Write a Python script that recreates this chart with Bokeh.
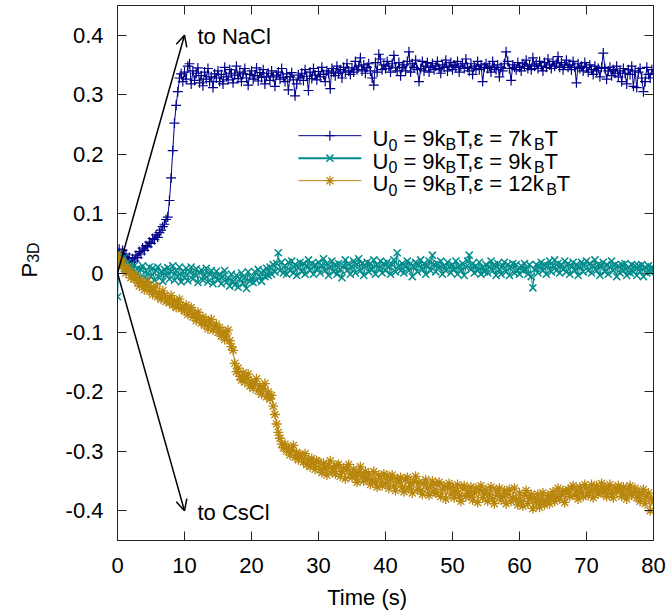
import math
from bokeh.plotting import figure
from bokeh.layouts import row
from bokeh.models import Label, Arrow, OpenHead, LinearAxis, FixedTicker, Range1d, ColumnDataSource
from bokeh.embed import file_html
from bokeh.resources import INLINE

# ---------------- data ----------------
time_step_s = 0.25

blue_u9_e7 = [
    0.035, 0.040, 0.030, 0.038, 0.028, 0.032, 0.022, 0.026, 0.018, 0.024,
    0.020, 0.030, 0.026, 0.036, 0.032, 0.042, 0.038, 0.046, 0.044, 0.052,
    0.050, 0.058, 0.056, 0.064, 0.060, 0.068, 0.072, 0.078, 0.082, 0.090,
    0.094, 0.122, 0.160, 0.206, 0.252, 0.282, 0.305, 0.328, 0.335, 0.322,
    0.338, 0.326, 0.348, 0.352, 0.318, 0.340, 0.324, 0.336, 0.345, 0.320,
    0.332, 0.315, 0.338, 0.326, 0.344, 0.322, 0.330, 0.312, 0.335, 0.328,
    0.340, 0.322, 0.334, 0.318, 0.346, 0.330, 0.325, 0.342, 0.336, 0.320,
    0.333, 0.348, 0.327, 0.338, 0.322, 0.335, 0.344, 0.328, 0.316, 0.334,
    0.340, 0.326, 0.332, 0.345, 0.323, 0.337, 0.329, 0.342, 0.318, 0.331,
    0.336, 0.324, 0.340, 0.330, 0.314, 0.333, 0.338, 0.326, 0.344, 0.329,
    0.322, 0.335, 0.308, 0.330, 0.337, 0.325, 0.298, 0.318, 0.333, 0.328,
    0.336, 0.324, 0.342, 0.331, 0.307, 0.338, 0.327, 0.344, 0.333, 0.325,
    0.339, 0.330, 0.346, 0.334, 0.322, 0.340, 0.336, 0.310, 0.344, 0.338,
    0.332, 0.348, 0.336, 0.342, 0.328, 0.346, 0.338, 0.352, 0.340, 0.334,
    0.345, 0.338, 0.356, 0.342, 0.348, 0.362, 0.340, 0.350, 0.336, 0.346,
    0.352, 0.340, 0.328, 0.316, 0.354, 0.338, 0.368, 0.360, 0.342, 0.350,
    0.344, 0.356, 0.348, 0.338, 0.352, 0.366, 0.345, 0.340, 0.354, 0.332,
    0.346, 0.350, 0.340, 0.356, 0.372, 0.338, 0.352, 0.346, 0.358, 0.342,
    0.322, 0.344, 0.356, 0.340, 0.348, 0.354, 0.338, 0.346, 0.352, 0.342,
    0.348, 0.356, 0.344, 0.336, 0.350, 0.346, 0.358, 0.340, 0.348, 0.354,
    0.342, 0.350, 0.346, 0.356, 0.338, 0.348, 0.352, 0.344, 0.360, 0.346,
    0.340, 0.352, 0.334, 0.348, 0.344, 0.356, 0.342, 0.350, 0.322, 0.346,
    0.352, 0.344, 0.348, 0.338, 0.356, 0.346, 0.342, 0.350, 0.330, 0.346,
    0.340, 0.352, 0.372, 0.356, 0.344, 0.324, 0.350, 0.346, 0.342, 0.354,
    0.346, 0.340, 0.352, 0.348, 0.358, 0.344, 0.350, 0.342, 0.362, 0.348,
    0.352, 0.344, 0.356, 0.348, 0.340, 0.354, 0.346, 0.360, 0.350, 0.344,
    0.356, 0.348, 0.352, 0.364, 0.346, 0.354, 0.342, 0.350, 0.358, 0.346,
    0.350, 0.342, 0.356, 0.346, 0.320, 0.352, 0.344, 0.348, 0.340, 0.354,
    0.346, 0.338, 0.350, 0.342, 0.334, 0.348, 0.340, 0.344, 0.330, 0.346,
    0.370, 0.344, 0.326, 0.340, 0.346, 0.332, 0.342, 0.336, 0.348, 0.330,
    0.340, 0.322, 0.344, 0.336, 0.318, 0.342, 0.334, 0.348, 0.314, 0.340,
    0.312, 0.338, 0.344, 0.328, 0.305, 0.322, 0.346, 0.334, 0.328, 0.342,
    0.336,
]

teal_u9_e9 = [
    -0.040, 0.032, 0.024, 0.014, 0.026, 0.008, 0.018, 0.002, 0.014, -0.004,
    0.012, -0.006, 0.008, -0.010, 0.006, 0.012, -0.008, 0.004, -0.012, 0.010,
    -0.006, 0.008, -0.012, 0.004, 0.010, -0.008, 0.002, -0.014, 0.006, -0.004,
    0.009, -0.010, 0.002, 0.012, -0.012, 0.004, -0.006, 0.010, -0.015, 0.003,
    -0.008, 0.008, -0.013, 0.002, 0.010, -0.010, -0.002, 0.007, -0.016, 0.001,
    0.005, -0.012, -0.004, 0.008, -0.015, -0.002, 0.004, -0.018, -0.006, 0.003,
    -0.012, -0.002, -0.018, -0.006, 0.004, -0.016, -0.008, -0.022, -0.002, -0.014,
    -0.020, -0.004, -0.024, -0.010, 0.000, -0.018, -0.008, -0.026, 0.002, -0.014,
    -0.008, -0.016, 0.002, -0.012, 0.006, -0.006, -0.014, 0.004, -0.006, 0.008,
    -0.004, 0.010, -0.002, 0.014, 0.002, 0.016, 0.034, 0.004, 0.018, 0.000,
    0.012, -0.002, 0.018, 0.004, 0.020, 0.000, 0.014, -0.004, 0.010, 0.018,
    0.002, 0.016, -0.002, 0.012, 0.022, 0.004, 0.016, -0.002, 0.014, 0.006,
    0.018, 0.000, 0.012, 0.024, 0.004, 0.016, -0.004, 0.010, 0.020, 0.002,
    0.014, -0.002, 0.016, 0.006, -0.008, 0.012, 0.022, 0.004, 0.016, -0.002,
    0.010, 0.020, 0.000, 0.014, 0.024, 0.004, 0.016, -0.004, 0.012, 0.018,
    0.002, 0.016, 0.006, 0.022, -0.002, 0.014, 0.008, 0.020, 0.000, 0.016,
    0.004, 0.018, 0.010, -0.002, 0.014, 0.022, 0.002, 0.034, 0.012, 0.004,
    0.016, 0.000, 0.012, 0.020, 0.004, 0.016, -0.006, 0.010, 0.018, 0.002,
    0.014, 0.022, 0.006, 0.016, -0.002, 0.012, 0.020, 0.004, 0.030, 0.014,
    0.002, 0.016, 0.008, 0.020, -0.002, 0.012, 0.004, 0.018, 0.010, 0.000,
    0.014, 0.006, 0.020, -0.002, 0.012, 0.004, 0.016, -0.004, 0.010, 0.020,
    0.030, 0.006, 0.016, 0.000, 0.012, 0.004, 0.018, -0.002, 0.010, 0.002,
    0.014, 0.000, 0.010, 0.020, 0.004, 0.014, -0.004, 0.016, 0.006, -0.002,
    0.012, 0.018, 0.002, 0.014, -0.004, 0.010, 0.016, 0.000, 0.014, 0.004,
    -0.002, 0.012, 0.004, 0.016, 0.006, -0.002, 0.014, -0.006, -0.025, 0.006,
    0.014, 0.000, 0.010, 0.018, 0.004, 0.014, -0.002, 0.012, 0.020, 0.002,
    0.012, 0.022, 0.004, 0.016, 0.000, 0.014, 0.006, 0.020, 0.002, 0.016,
    -0.002, 0.012, 0.018, 0.004, 0.014, -0.004, 0.010, 0.018, 0.002, 0.014,
    0.020, 0.004, 0.016, 0.000, 0.012, 0.022, 0.004, 0.014, -0.004, 0.012,
    0.018, 0.002, 0.014, -0.002, 0.010, 0.020, 0.004, 0.014, -0.006, 0.012,
    0.000, 0.014, 0.004, 0.016, -0.004, 0.010, 0.000, 0.014, 0.002, 0.012,
    -0.004, 0.012, 0.002, 0.014, -0.006, 0.010, 0.000, 0.012, 0.002, 0.010,
    0.004,
]

gold_u9_e12 = [
    0.032, 0.024, 0.014, 0.020, 0.008, 0.000, 0.010, 0.002, -0.008, -0.002,
    -0.010, -0.004, -0.016, -0.022, -0.012, -0.018, -0.028, -0.020, -0.014, -0.030,
    -0.024, -0.036, -0.030, -0.022, -0.040, -0.034, -0.044, -0.030, -0.038, -0.048,
    -0.042, -0.050, -0.038, -0.054, -0.046, -0.058, -0.050, -0.044, -0.060, -0.056,
    -0.064, -0.054, -0.070, -0.062, -0.058, -0.074, -0.068, -0.080, -0.066, -0.076,
    -0.084, -0.074, -0.088, -0.080, -0.094, -0.084, -0.078, -0.096, -0.090, -0.086,
    -0.100, -0.092, -0.106, -0.098, -0.112, -0.104, -0.096, -0.114, -0.124, -0.130,
    -0.152, -0.166, -0.160, -0.174, -0.180, -0.168, -0.184, -0.176, -0.170, -0.190,
    -0.182, -0.194, -0.186, -0.178, -0.198, -0.190, -0.204, -0.194, -0.186, -0.208,
    -0.200, -0.212, -0.206, -0.224, -0.238, -0.254, -0.268, -0.278, -0.288, -0.294,
    -0.288, -0.300, -0.294, -0.306, -0.298, -0.290, -0.310, -0.302, -0.314, -0.306,
    -0.310, -0.318, -0.304, -0.322, -0.314, -0.326, -0.312, -0.320, -0.330, -0.316,
    -0.318, -0.330, -0.336, -0.320, -0.328, -0.340, -0.324, -0.316, -0.334, -0.328,
    -0.338, -0.324, -0.322, -0.342, -0.334, -0.328, -0.346, -0.330, -0.322, -0.338,
    -0.344, -0.330, -0.340, -0.352, -0.336, -0.326, -0.342, -0.350, -0.334, -0.346,
    -0.338, -0.356, -0.348, -0.334, -0.352, -0.360, -0.340, -0.346, -0.358, -0.338,
    -0.354, -0.342, -0.362, -0.348, -0.340, -0.358, -0.366, -0.346, -0.352, -0.344,
    -0.360, -0.368, -0.348, -0.344, -0.362, -0.354, -0.370, -0.350, -0.342, -0.364,
    -0.352, -0.366, -0.372, -0.354, -0.348, -0.362, -0.374, -0.358, -0.350, -0.368,
    -0.370, -0.356, -0.352, -0.376, -0.364, -0.358, -0.380, -0.362, -0.354, -0.372,
    -0.360, -0.378, -0.368, -0.356, -0.374, -0.384, -0.362, -0.358, -0.376, -0.366,
    -0.374, -0.360, -0.382, -0.370, -0.362, -0.386, -0.366, -0.358, -0.378, -0.372,
    -0.364, -0.384, -0.372, -0.360, -0.380, -0.388, -0.366, -0.374, -0.362, -0.382,
    -0.376, -0.366, -0.388, -0.372, -0.364, -0.384, -0.378, -0.362, -0.380, -0.390,
    -0.370, -0.384, -0.392, -0.374, -0.366, -0.388, -0.380, -0.372, -0.396, -0.378,
    -0.386, -0.372, -0.394, -0.382, -0.370, -0.390, -0.384, -0.374, -0.388, -0.376,
    -0.368, -0.384, -0.376, -0.362, -0.380, -0.372, -0.366, -0.386, -0.370, -0.364,
    -0.376, -0.362, -0.358, -0.374, -0.366, -0.380, -0.360, -0.370, -0.376, -0.356,
    -0.362, -0.374, -0.368, -0.356, -0.378, -0.364, -0.358, -0.372, -0.366, -0.354,
    -0.370, -0.360, -0.376, -0.364, -0.356, -0.372, -0.378, -0.362, -0.368, -0.358,
    -0.364, -0.376, -0.360, -0.372, -0.380, -0.366, -0.358, -0.374, -0.368, -0.362,
    -0.378, -0.368, -0.384, -0.372, -0.364, -0.388, -0.376, -0.370, -0.400, -0.380,
    -0.386,
]

x_ticks = [0, 10, 20, 30, 40, 50, 60, 70, 80]
x_tick_labels = ["0", "10", "20", "30", "40", "50", "60", "70", "80"]
y_ticks = [-0.4, -0.3, -0.2, -0.1, 0, 0.1, 0.2, 0.3, 0.4]
y_tick_labels = ["-0.4", "-0.3", "-0.2", "-0.1", "0", "0.1", "0.2", "0.3", "0.4"]
x_title = "Time (s)"
y_title = [("P", False), ("3D", True)]

NB = "\u00a0"
legend_rows = [
    [("U", False), ("0", True), (NB + "=" + NB + "9k", False), ("B", True), ("T,\u03b5" + NB + "=" + NB + "7k", False), ("B", True), ("T", False)],
    [("U", False), ("0", True), (NB + "=" + NB + "9k", False), ("B", True), ("T,\u03b5" + NB + "=" + NB + "9k", False), ("B", True), ("T", False)],
    [("U", False), ("0", True), (NB + "=" + NB + "9k", False), ("B", True), ("T,\u03b5" + NB + "=" + NB + "12k", False), ("B", True), ("T", False)],
]
series_colors = ["#00008b", "#008b8b", "#b8860b"]
series_markers = ["cross", "x", "asterisk"]
series_values = [blue_u9_e7, teal_u9_e9, gold_u9_e12]

arrow_origin = (0, 0)
arrow_nacl_tip = (10, 0.4)
arrow_cscl_tip = (10, -0.4)

# ---------------- style ----------------
FONT = "Liberation Sans"
F = 22      # main font px
S = 16      # subscript font px
DROP = 6    # subscript drop px
AX = "#222222"
W_LEFT = 58
MARKER_SIZE = {"cross": 10, "x": 10, "asterisk": 10}
MARKER_LW = {"cross": 1.2, "x": 1.5, "asterisk": 1.3}

ARIAL_W = {
    "U": .722, "0": .556, " ": .278, NB: .278, "=": .584, "9": .556, "k": .5, "B": .667, "T": .611,
    ",": .278, "\u03b5": .446, "7": .556, "1": .556, "2": .556, "P": .667, "3": .556, "D": .722,
}


def text_width(s, size):
    return sum(ARIAL_W.get(c, 0.556) for c in s) * size


yr = Range1d(-0.45, 0.45)

p = figure(width=669 - W_LEFT, height=615,
           x_range=Range1d(0, 80), y_range=yr,
           output_backend="svg", toolbar_location=None,
           min_border_left=117 - W_LEFT, min_border_right=16, min_border_top=5, min_border_bottom=75)
p.xgrid.visible = False
p.ygrid.visible = False
p.background_fill_color = "white"
p.border_fill_color = "white"
p.outline_line_color = AX
p.outline_line_width = 1


def style_axis(ax, ticks, show_labels, standoff):
    ax.ticker = FixedTicker(ticks=ticks)
    ax.minor_tick_line_color = None
    ax.major_tick_in = 9
    ax.major_tick_out = 0
    ax.major_tick_line_color = AX
    ax.major_tick_line_width = 1
    ax.axis_line_color = AX
    ax.axis_line_width = 1
    if show_labels:
        ax.major_label_text_font = FONT
        ax.major_label_text_font_size = f"{F}px"
        ax.major_label_text_color = "black"
        ax.major_label_standoff = standoff
    else:
        ax.major_label_text_font_size = "1px"
        ax.major_label_text_color = None
        ax.major_label_standoff = 0


style_axis(p.xaxis[0], x_ticks, True, 17)
p.xaxis[0].major_label_overrides = {t: l for t, l in zip(x_ticks, x_tick_labels)}
# the reference title sits left of the frame centre: pad it on the right
p.xaxis[0].axis_label = x_title + NB * 6
p.xaxis[0].axis_label_text_font = FONT
p.xaxis[0].axis_label_text_font_size = f"{F}px"
p.xaxis[0].axis_label_text_font_style = "normal"
p.xaxis[0].axis_label_text_color = "black"
p.xaxis[0].axis_label_standoff = 9
style_axis(p.yaxis[0], y_ticks, True, 14)
p.yaxis[0].major_label_overrides = {t: l for t, l in zip(y_ticks, y_tick_labels)}

top_axis = LinearAxis()
style_axis(top_axis, x_ticks, False, 0)
p.add_layout(top_axis, "above")
right_axis = LinearAxis()
style_axis(right_axis, y_ticks, False, 0)
p.add_layout(right_axis, "right")

# ---------------- data series ----------------
for vals, col, mk in zip(series_values, series_colors, series_markers):
    src = ColumnDataSource(dict(t=[i * time_step_s for i in range(len(vals))], v=vals))
    p.line("t", "v", source=src, line_color=col, line_width=1)
    p.scatter("t", "v", source=src, marker=mk, size=MARKER_SIZE[mk], line_color=col, fill_color=col,
              line_width=MARKER_LW[mk])

# ---------------- arrows ----------------
for tip in (arrow_nacl_tip, arrow_cscl_tip):
    p.add_layout(Arrow(x_start=arrow_origin[0], y_start=arrow_origin[1], x_end=tip[0], y_end=tip[1],
                       line_color="black", line_width=1.5,
                       end=OpenHead(size=11, line_color="black", line_width=1.5)))

p.add_layout(Label(x=arrow_nacl_tip[0], y=arrow_nacl_tip[1], x_offset=13, y_offset=-1, text="to NaCl",
                   text_font=FONT, text_font_size=f"{F}px", text_baseline="middle", text_color="black"))
p.add_layout(Label(x=arrow_cscl_tip[0], y=arrow_cscl_tip[1], x_offset=13, y_offset=-2, text="to CsCl",
                   text_font=FONT, text_font_size=f"{F}px", text_baseline="middle", text_color="black"))

# ---------------- legend (manual, with subscripts) ----------------
leg_line_x = (27.0, 36.4)
leg_text_x = 38.06
leg_row_y = [0.231, 0.1932, 0.1553]
for rw, ly, col, mk in zip(legend_rows, leg_row_y, series_colors, series_markers):
    p.line(list(leg_line_x), [ly, ly], line_color=col, line_width=2 if mk == "x" else 1)
    p.scatter([sum(leg_line_x) / 2], [ly], marker=mk, size=MARKER_SIZE[mk], line_color=col,
              line_width=MARKER_LW[mk])
    cum = 0.0
    for txt, sub in rw:
        size = S if sub else F
        p.add_layout(Label(x=leg_text_x, y=ly, x_offset=cum, y_offset=-3 - (DROP if sub else 0),
                           text=txt, text_font=FONT, text_font_size=f"{size}px",
                           text_baseline="alphabetic", text_color="black"))
        cum += text_width(txt, size)

# ---------------- y title in a narrow side panel ----------------
ypanel = figure(width=W_LEFT, height=615, x_range=Range1d(0, W_LEFT), y_range=yr,
                output_backend="svg", toolbar_location=None,
                x_axis_location=None, y_axis_location=None,
                min_border_left=0, min_border_right=0, min_border_top=5, min_border_bottom=75)
ypanel.xgrid.visible = False
ypanel.ygrid.visible = False
ypanel.outline_line_color = None
ypanel.background_fill_color = "white"
ypanel.border_fill_color = "white"

cum = 0.0
for txt, sub in y_title:
    size = S if sub else F
    ypanel.add_layout(Label(x=29 + (4 if sub else 0), y=0, y_offset=-4.5 + cum,
                            angle=math.pi / 2, text=txt, text_font=FONT, text_font_size=f"{size}px",
                            text_baseline="alphabetic", text_color="black"))
    cum += text_width(txt, size)

layout = row(ypanel, p)
open("out.html", "w").write(file_html(layout, INLINE))
